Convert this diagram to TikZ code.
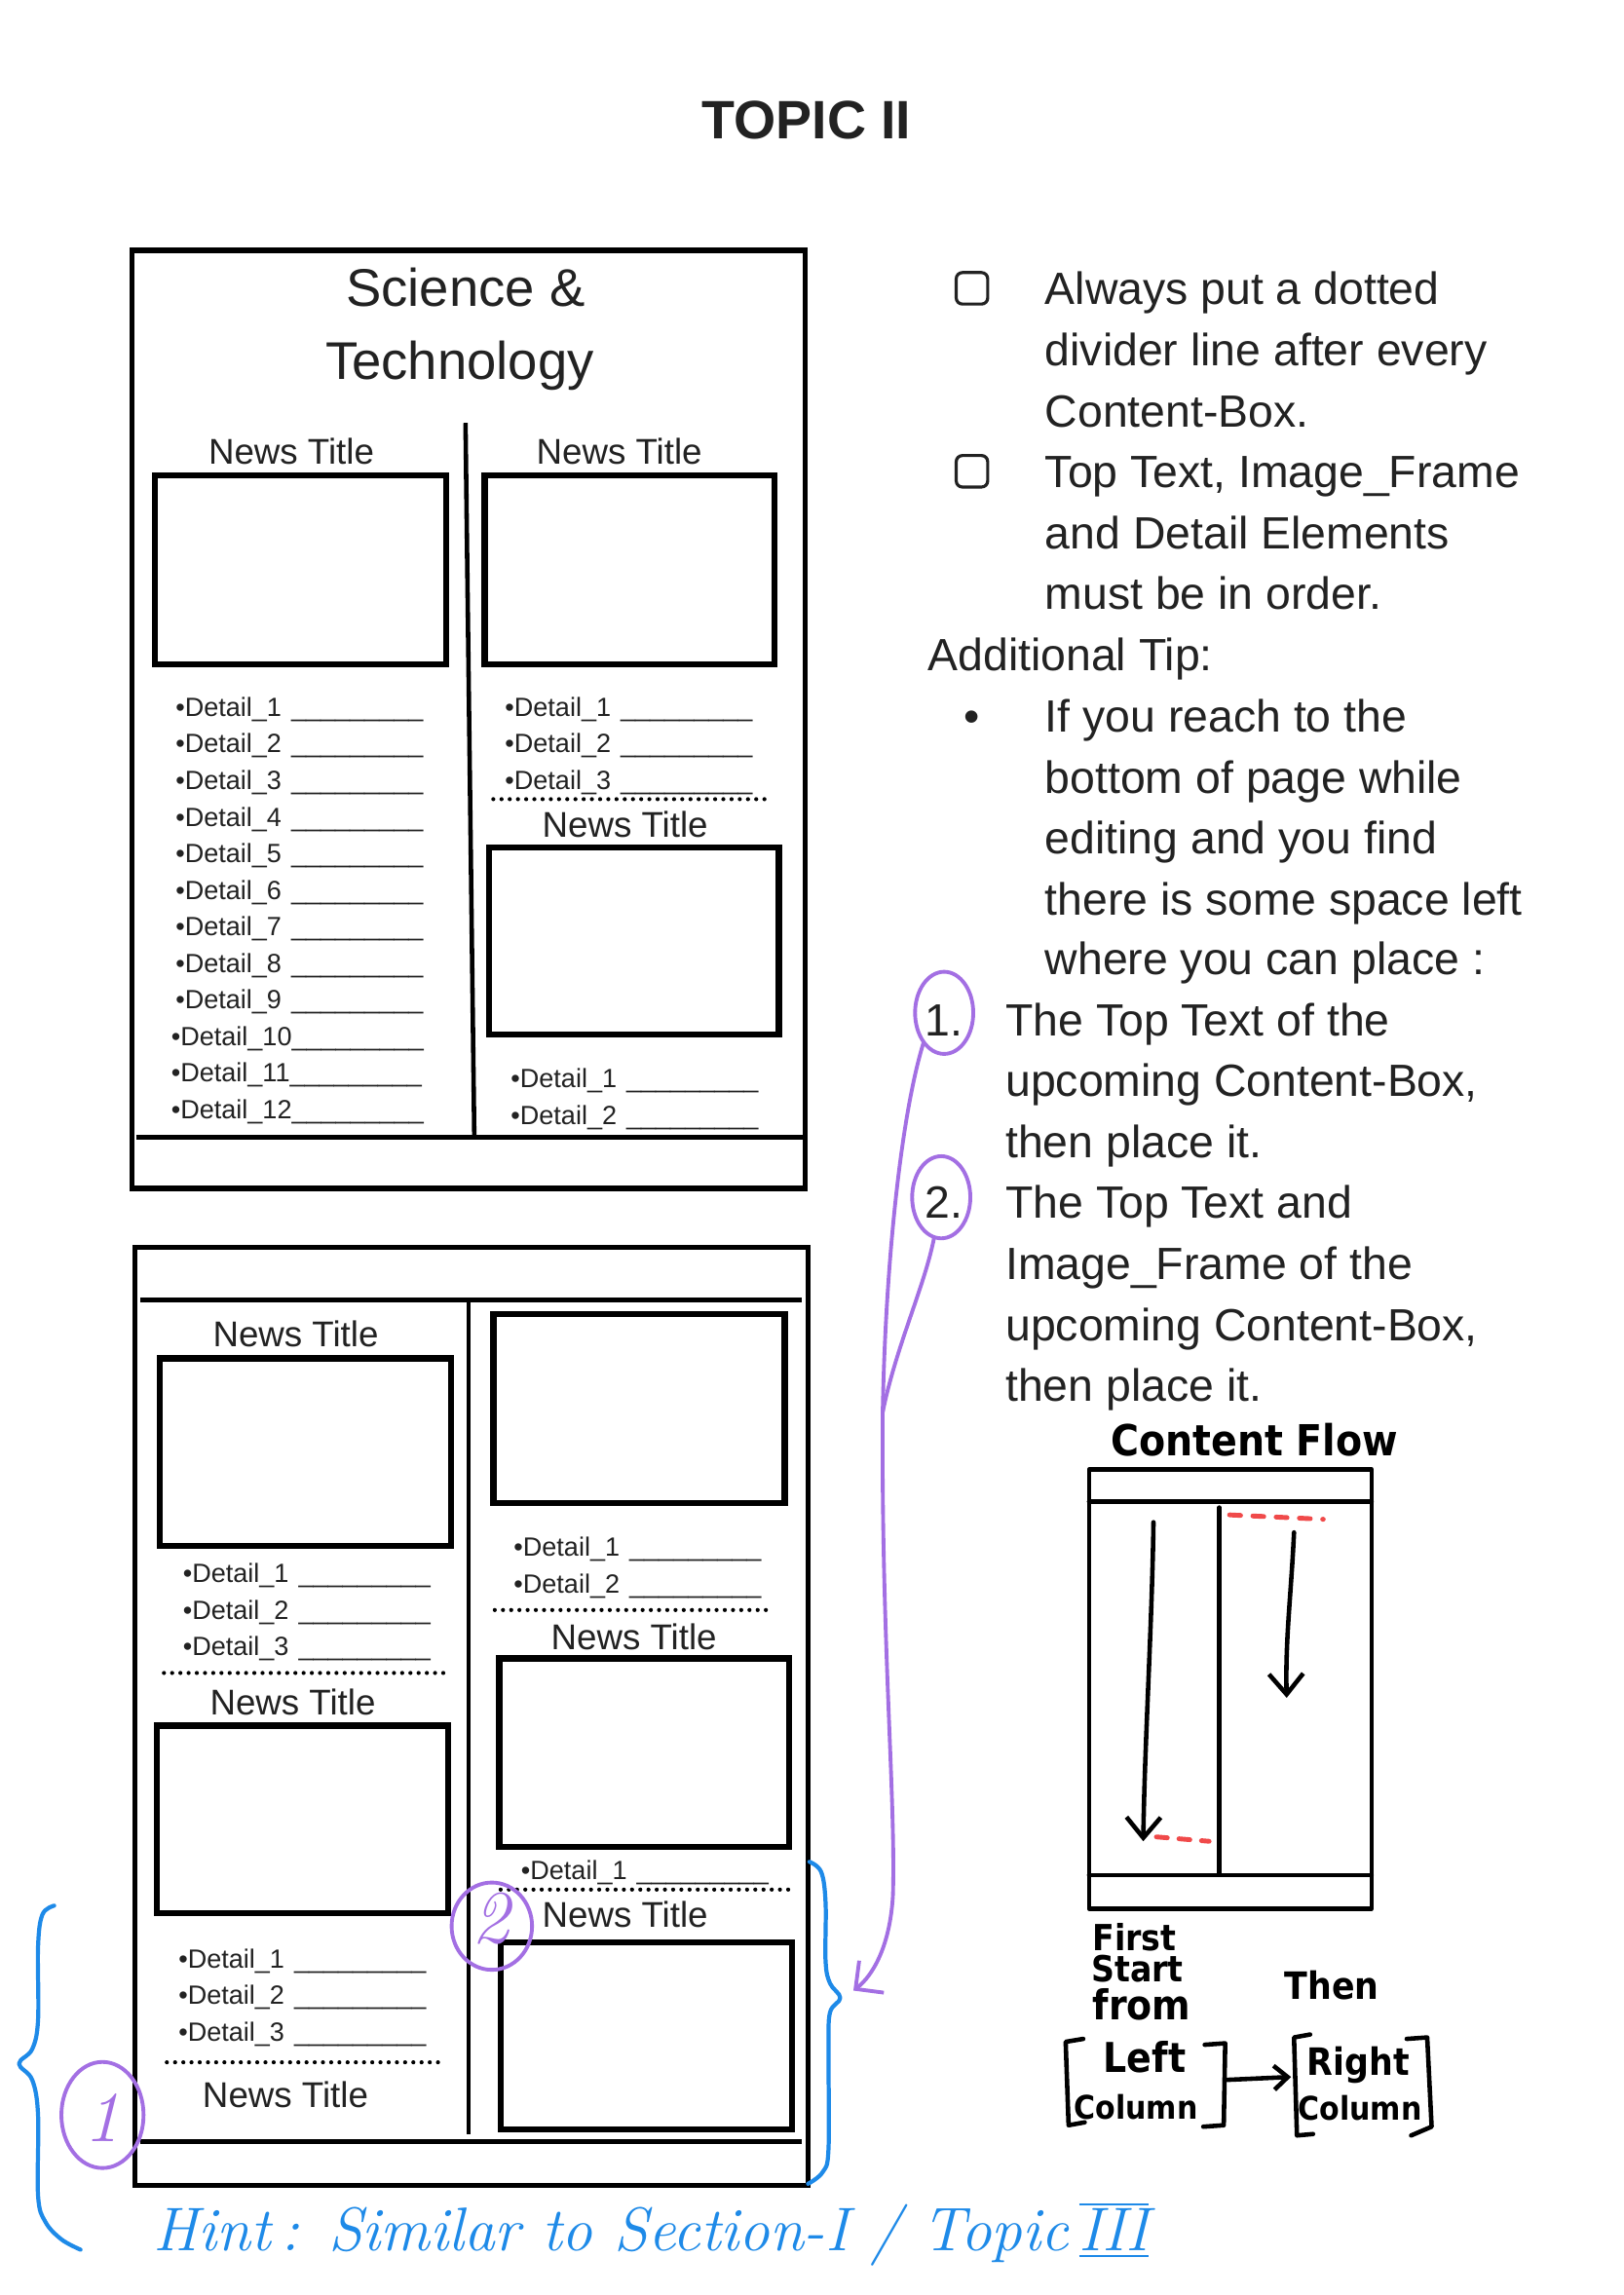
\documentclass[tikz,border=0pt]{standalone}
\usepackage{fontspec}
\usetikzlibrary{arrows.meta,shapes.geometric}
\newfontfamily\uifont{Liberation Sans}
\newfontfamily\markerfont[FakeStretch=0.9]{DejaVu Sans}
\definecolor{ink}{HTML}{222222}
\definecolor{pen}{HTML}{A36FE3}
\definecolor{bluepen}{HTML}{1E8AE8}
\definecolor{redpen}{HTML}{F04A4A}
% one detail line of a content box
\newcommand\detailrow[1]{•Detail\_#1\hspace{0.37em}\_\_\_\_\_\_\_\_\_}
\newcommand\detailrowtight[1]{•Detail\_#1\_\_\_\_\_\_\_\_\_}
\begin{document}
\begin{tikzpicture}[x=0.015032cm,y=-0.015032cm,
  every node/.style={inner sep=0pt,outer sep=0pt,text=ink},
  page/.style={line width=1.5pt},
  frame/.style={line width=1.8pt},
  rule/.style={line width=1.3pt},
  dotrule/.style={line width=1.2pt,dash pattern=on 0pt off 2.4pt,line cap=round},
  heading/.style={anchor=mid,yshift=-3.1pt,font=\uifont\fontsize{15.5}{18}\selectfont},
  newstitle/.style={anchor=mid,yshift=-2.1pt,font=\uifont\fontsize{10.45}{12}\selectfont},
  detail/.style={anchor=mid west,yshift=-1pt,font=\uifont\fontsize{7.7}{9}\selectfont},
  tip/.style={anchor=mid west,yshift=-2.6pt,font=\uifont\fontsize{13.2}{16}\selectfont},
  tickbox/.style={draw=ink,line width=0.9pt,rounded corners=1.8pt,minimum size=9.2pt},
  marker/.style={line width=1.3pt,line cap=round,line join=round,draw=black},
  hand/.style={anchor=mid,yshift=-2pt,text=black,font=\markerfont\bfseries\fontsize{#1}{#1}\selectfont},
  hand/.default=11,
  purple/.style={draw=pen,line width=1.1pt,line cap=round},
  blue/.style={draw=bluepen,line width=1.2pt,line cap=round,line join=round},
  ring/.style={ellipse,draw=pen,line width=1.1pt},
  script/.style={anchor=mid west,yshift=-3.4pt,text=bluepen,font=\itshape\fontsize{18}{20}\selectfont},
]
\fill[white] (0,0) rectangle (1109,1568);
\useasboundingbox (0,0) rectangle (1109,1568);

% heading
\node[anchor=mid,yshift=-3.2pt,font=\uifont\bfseries\fontsize{15.8}{18}\selectfont] (topic) at (551,82) {TOPIC II};

% ---------------- first page: Science & Technology ----------------
\draw[page] (90,171) rectangle (550,812);
\node[heading] (sci) at (318,197) {Science \&};
\node[heading] (tech) at (314,247) {Technology};
\draw[rule] (318,289) -- (324,776);
\draw[rule] (93,777) -- (549,777);
% left column
\node[newstitle] (pA1) at (199,307) {News Title};
\draw[frame] (106,325) rectangle (305,454);
\foreach \i in {1,...,9}
  \node[detail] (pAd\i) at (120,{457+25*\i}) {\detailrow{\i}};
\foreach \i in {10,11,12}
  \node[detail] (pAd\i) at (117,{457+25*\i}) {\detailrowtight{\i}};
% right column
\node[newstitle] (pA2) at (423,307) {News Title};
\draw[frame] (331,325) rectangle (529,454);
\foreach \i in {1,2,3}
  \node[detail] (pBd\i) at (345,{457+25*\i}) {\detailrow{\i}};
\draw[dotrule] (337,546) -- (527,546);
\node[newstitle] (pA3) at (427,562) {News Title};
\draw[frame] (334,579) rectangle (532,707);
\foreach \i in {1,2}
  \node[detail] (pCd\i) at (349,{711+25*\i}) {\detailrow{\i}};

% ---------------- second page: continued columns ----------------
\draw[page] (92,852) rectangle (552,1493);
\draw[rule] (96,888) -- (548,888);
\draw[rule] (320,888) -- (320,1458);
\draw[rule] (96,1463) -- (548,1463);
% left column
\node[newstitle] (qA1) at (202,910) {News Title};
\draw[frame] (109,928) rectangle (308,1056);
\foreach \i in {1,2,3}
  \node[detail] (qAd\i) at (125,{1049+25*\i}) {\detailrow{\i}};
\draw[dotrule] (112,1143) -- (303,1143);
\node[newstitle] (qA2) at (200,1162) {News Title};
\draw[frame] (107,1179) rectangle (306,1307);
\foreach \i in {1,2,3}
  \node[detail] (qBd\i) at (122,{1312+25*\i}) {\detailrow{\i}};
\draw[dotrule] (114,1409) -- (304,1409);
\node[newstitle] (qA3) at (195,1430) {News Title};
% right column
\draw[frame] (337,898) rectangle (536,1027);
\foreach \i in {1,2}
  \node[detail] (qCd\i) at (351,{1031+25*\i}) {\detailrow{\i}};
\draw[dotrule] (338,1100) -- (528,1100);
\node[newstitle] (qA4) at (433,1117) {News Title};
\draw[frame] (341,1133) rectangle (539,1262);
\node[detail] (qDd1) at (356,1277) {\detailrow{1}};
\draw[dotrule] (342,1291) -- (540,1291);
\node[newstitle] (qA5) at (427,1307) {News Title};
\draw[frame] (342,1327) rectangle (541,1455);

% ---------------- rules and tips ----------------
\node[tickbox] (cb1) at (664,197) {};
\foreach \yy/\t [count=\k] in {197/{Always put a dotted},239/{divider line after every},281/{Content-Box.}}
  \node[tip] (ruleA\k) at (714,\yy) {\t};
\node[tickbox] (cb2) at (664,322) {};
\foreach \yy/\t [count=\k] in {322/{Top Text, Image\_Frame},364/{and Detail Elements},405/{must be in order.}}
  \node[tip] (ruleB\k) at (714,\yy) {\t};
\node[tip] (addtip) at (634,447) {Additional Tip:};
\node[tip,anchor=mid] (bul) at (664,489) {•};
\foreach \yy/\t [count=\k] in {489/{If you reach to the},531/{bottom of page while},572/{editing and you find},614/{there is some space left},655/{where you can place :}}
  \node[tip] (tipA\k) at (714,\yy) {\t};
\node[tip] (num1) at (632,697) {1.};
\foreach \yy/\t [count=\k] in {697/{The Top Text of the},738/{upcoming Content-Box,},780/{then place it.}}
  \node[tip] (optA\k) at (687,\yy) {\t};
\node[tip] (num2) at (632,821) {2.};
\foreach \yy/\t [count=\k] in {821/{The Top Text and},863/{Image\_Frame of the},905/{upcoming Content-Box,},946/{then place it.}}
  \node[tip] (optB\k) at (687,\yy) {\t};

% ---------------- content flow sketch ----------------
\node[hand=12.5] (flowtitle) at (857,985) {Content Flow};
\draw[marker] (744,1004) rectangle (937,1304);
\draw[marker] (744,1026) -- (937,1026);
\draw[marker] (744,1281) -- (937,1281);
\draw[marker] (833,1030) -- (833,1280);
\coordinate (leftTop) at (788,1040);
\coordinate (leftEnd) at (781,1258);
\coordinate (rightTop) at (884,1047);
\coordinate (rightEnd) at (879,1160);
\draw[marker,-{Straight Barb[length=6pt,width=10pt,line width=1.3pt]}]
  (leftTop) .. controls (787,1110) and (782,1190) .. (leftEnd);
\draw[marker,-{Straight Barb[length=6pt,width=10pt,line width=1.3pt]}]
  (rightTop) .. controls (882,1090) and (878,1120) .. (rightEnd);
\draw[redpen,line width=1.4pt,line cap=round,dash pattern=on 3.2pt off 3.4pt] (790,1255) -- (826,1258);
\draw[redpen,line width=1.4pt,line cap=round,dash pattern=on 3.2pt off 3.6pt] (840,1035) -- (904,1038);

\node[hand=10.5] (first) at (775,1323) {First};
\node[hand=10.5] (start) at (777,1344) {Start};
\node[hand=12] (from) at (780,1370) {from};
\node[hand=11] (then) at (910,1356) {Then};
\node[hand=12] (leftw) at (782,1406) {Left};
\node[hand=9.5] (colL) at (776,1438) {Column};
\node[hand=11] (rightw) at (928,1408) {Right};
\node[hand=9.5] (colR) at (929,1439) {Column};
\draw[marker] (740,1393) -- (728,1395) -- (730,1452) -- (741,1450);
\draw[marker] (823,1397) -- (837,1396) -- (836,1452) -- (822,1453);
\draw[marker] (895,1390) -- (884,1392) -- (886,1459) -- (897,1458);
\draw[marker] (961,1393) -- (975,1392) -- (978,1453) -- (964,1459);
\coordinate (leftBr) at (838,1421);
\coordinate (rightBr) at (882,1419);
\draw[marker,-{Straight Barb[length=4pt,width=7pt,line width=1.3pt]}] (leftBr) -- (rightBr);

% ---------------- pen annotations ----------------
\node[ring,minimum width=17pt,minimum height=24pt] (ring1) at (645,692) {};
\node[ring,minimum width=17pt,minimum height=24pt] (ring2) at (643,818) {};
\node[ring,minimum width=23.5pt,minimum height=25.5pt] (ring3) at (336,1316) {};
\node[ring,minimum width=24pt,minimum height=31pt] (ring4) at (70,1445) {};
\node[text=pen,font=\itshape\fontsize{22}{22}\selectfont] (mark2) at (335,1311) {2};
\node[text=pen,font=\itshape\fontsize{21}{21}\selectfont] (mark1) at (70,1447) {1};
\coordinate (joinPt) at (603,965);
\coordinate (arrowTip) at (583,1360);
\draw[purple] (ring1.235) .. controls (616,760) and (605,860) .. (joinPt);
\draw[purple] (ring2.260) .. controls (632,878) and (612,920) .. (joinPt);
\draw[purple,-{Straight Barb[length=5.9pt,width=11.8pt,line width=1.1pt]}]
  (joinPt) .. controls (602,1120) and (612,1230) .. (610,1295)
  .. controls (608,1330) and (596,1350) .. (arrowTip);

\draw[blue] plot[smooth,tension=0.6] coordinates {(37,1302) (29,1308) (26,1330) (26,1380) (22,1400) (13,1410) (22,1421) (26,1445) (26,1500) (31,1518) (42,1530) (55,1537)};
\draw[blue] plot[smooth,tension=0.6] coordinates {(553,1272) (561,1279) (564,1300) (564,1340) (567,1355) (574,1365) (567,1375) (566,1400) (566,1468) (562,1484) (552,1492)};
\node[script] (hint) at (105,1525) {Hint\,: Similar to Section-I / Topic};
\node[script] (roman) at ([yshift=3.4pt]hint.mid east) {\,$\overline{\underline{\mbox{III}}}$};
\end{tikzpicture}
\end{document}
